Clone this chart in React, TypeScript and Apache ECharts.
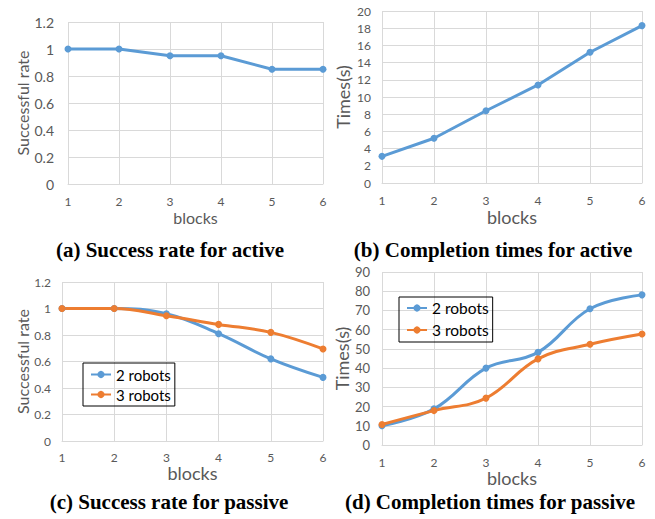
import React, { useEffect, useRef } from "react";
import * as echarts from "echarts";

const blocks = ["1", "2", "3", "4", "5", "6"];
const activeSuccess = [1, 1, 0.95, 0.95, 0.85, 0.85];
const activeTimes = [3.1, 5.2, 8.4, 11.4, 15.2, 18.3];
const passiveSuccess2 = [1, 1, 0.96, 0.81, 0.62, 0.48];
const passiveSuccess3 = [1, 1, 0.945, 0.88, 0.82, 0.695];
const passiveTimes2 = [10, 18.8, 40, 48.2, 70.9, 78.1];
const passiveTimes3 = [10.7, 17.9, 24.4, 44.8, 52.4, 57.7];
const seriesNames = ["2 robots", "3 robots"];
const captions = [
  "(a) Success rate for active",
  "(b) Completion times for active",
  "(c) Success rate for passive",
  "(d) Completion times for passive",
];

const BLUE = "#5B9BD5";
const ORANGE = "#ED7D31";
const GRID = "#D9D9D9";
const LABEL = "#595959";
const FONT = "Lato, 'Liberation Sans', sans-serif";

function xAxis(gridIndex: number, margin: number, nameSize: number, nameGap: number, labelSize: number) {
  return {
    type: "category",
    gridIndex,
    data: blocks,
    boundaryGap: false,
    name: "blocks",
    nameLocation: "middle",
    nameGap,
    nameTextStyle: { color: LABEL, fontSize: nameSize, fontFamily: FONT },
    axisLine: { show: true, lineStyle: { color: GRID, width: 1 } },
    axisTick: { show: false },
    axisLabel: { color: LABEL, fontSize: labelSize, margin, fontFamily: FONT },
    splitLine: { show: true, lineStyle: { color: GRID, width: 1 } },
  };
}

function yAxis(
  gridIndex: number,
  name: string,
  max: number,
  interval: number,
  margin: number,
  nameSize: number,
  nameGap: number,
  labelSize: number
) {
  return {
    type: "value",
    gridIndex,
    min: 0,
    max,
    interval,
    name,
    nameLocation: "middle",
    nameGap,
    nameTextStyle: { color: LABEL, fontSize: nameSize, fontFamily: FONT },
    axisLine: { show: false },
    axisTick: { show: false },
    axisLabel: { color: LABEL, fontSize: labelSize, margin, fontFamily: FONT },
    splitLine: { show: true, lineStyle: { color: GRID, width: 1 } },
  };
}

function line(name: string, data: number[], idx: number, color: string, smooth: boolean) {
  return {
    type: "line",
    name,
    xAxisIndex: idx,
    yAxisIndex: idx,
    data,
    smooth: smooth ? 0.4 : false,
    symbol: "circle",
    symbolSize: 7,
    lineStyle: { color, width: 3 },
    itemStyle: { color },
  };
}

function caption(text: string, x: number, y: number) {
  return {
    type: "text",
    x,
    y,
    style: {
      text,
      fill: "#000",
      font: "bold 21px 'Liberation Serif', 'Times New Roman', serif",
      align: "center",
      verticalAlign: "middle",
    },
  };
}

export default function App() {
  const ref = useRef<HTMLDivElement>(null);
  useEffect(() => {
    document.body.style.margin = "0";
    if (!ref.current) return;
    const chart = echarts.init(ref.current, null, { renderer: "svg" });
    const legendBase = {
      orient: "vertical",
      data: seriesNames,
      borderColor: "#000",
      borderWidth: 1,
      itemWidth: 20,
      itemHeight: 9,
      itemGap: 5,
      itemTextGap: 3,
      selectedMode: false,
    };
    chart.setOption({
      animation: false,
      backgroundColor: "#fff",
      grid: [
        { left: 68, top: 22, width: 255, height: 162 },
        { left: 382, top: 11, width: 260, height: 172 },
        { left: 62, top: 282, width: 261, height: 159 },
        { left: 382, top: 272, width: 260, height: 173 },
      ],
      xAxis: [
        xAxis(0, 11, 16, 25, 12),
        xAxis(1, 11, 18, 25, 12),
        xAxis(2, 10, 18, 22, 12),
        xAxis(3, 11, 18, 19, 12),
      ],
      yAxis: [
        yAxis(0, "Successful rate", 1.2, 0.2, 14, 16, 38, 14),
        yAxis(1, "Times(s)", 20, 2, 11, 18, 30, 12),
        yAxis(2, "Successful rate", 1.2, 0.2, 11, 16, 32, 12),
        yAxis(3, "Times(s)", 90, 10, 12, 18, 31, 13),
      ],
      legend: [
        {
          ...legendBase,
          left: 83,
          top: 363,
          padding: [4, 4, 4, 7],
          textStyle: { color: "#000", fontSize: 15, fontFamily: FONT },
        },
        {
          ...legendBase,
          left: 399,
          top: 297,
          padding: [3, 4, 4, 7],
          itemGap: 6,
          textStyle: { color: "#000", fontSize: 15.5, fontFamily: FONT },
        },
      ],
      series: [
        line("active success", activeSuccess, 0, BLUE, false),
        line("active times", activeTimes, 1, BLUE, false),
        line(seriesNames[0], passiveSuccess2, 2, BLUE, true),
        line(seriesNames[1], passiveSuccess3, 2, ORANGE, true),
        line(seriesNames[0], passiveTimes2, 3, BLUE, true),
        line(seriesNames[1], passiveTimes3, 3, ORANGE, true),
      ],
      graphic: [
        caption(captions[0], 170, 250),
        caption(captions[1], 493, 250),
        caption(captions[2], 169, 502),
        caption(captions[3], 490, 502),
      ],
    });
    return () => chart.dispose();
  }, []);
  return <div ref={ref} style={{ width: 655, height: 519 }} />;
}
